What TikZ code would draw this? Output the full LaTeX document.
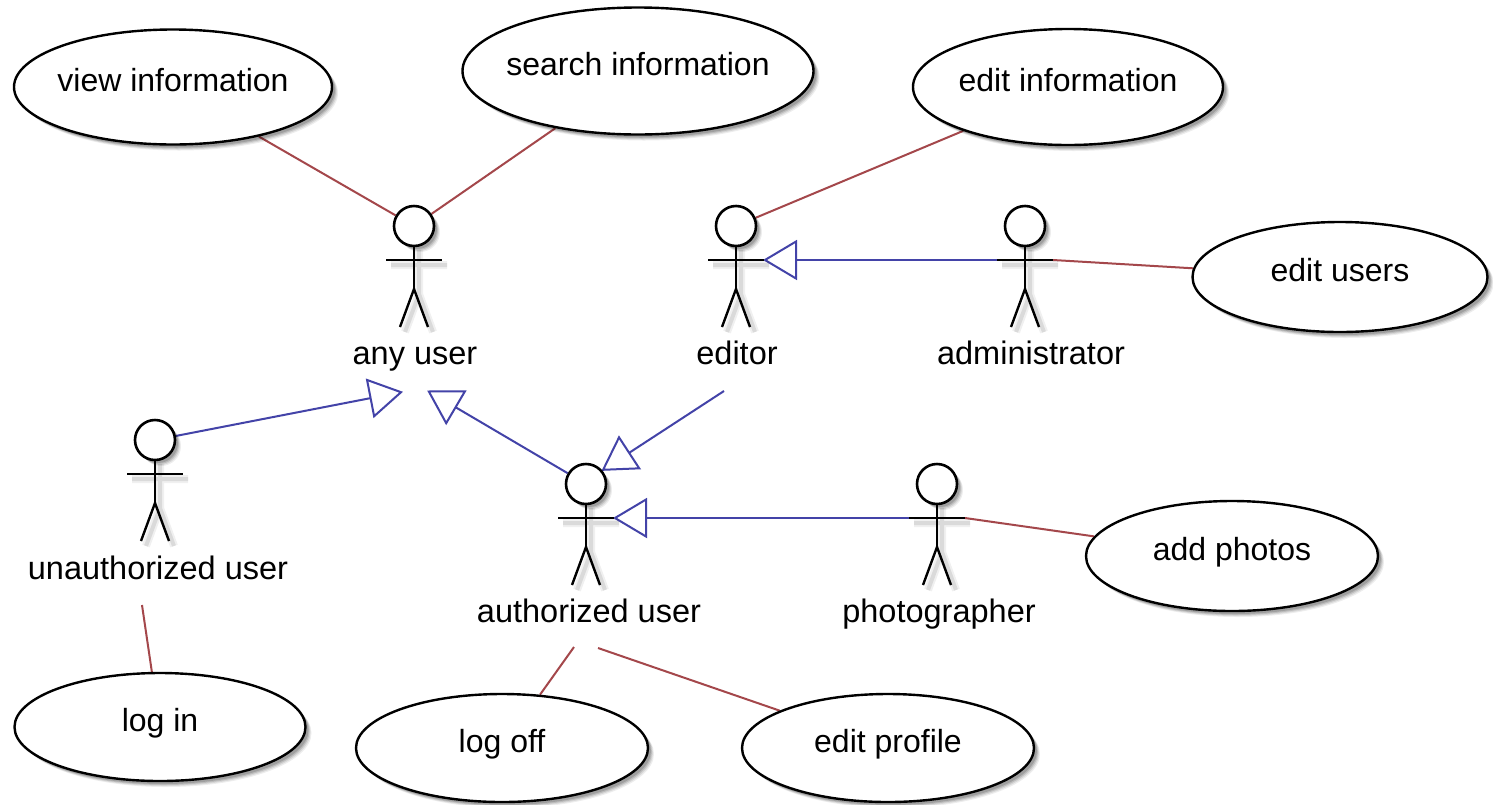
\documentclass[tikz,border=0pt]{standalone}
\usepackage{fontspec}
\setmainfont{Liberation Sans}
\usetikzlibrary{arrows.meta,shapes.geometric,shadows,backgrounds}
\definecolor{assoc}{HTML}{A4474B}
\definecolor{gener}{HTML}{4343A8}
\newcommand{\uctext}[1]{\raisebox{-4.5pt}[0pt][0pt]{\makebox[0pt]{#1}}}
\tikzset{
  x=1pt,y=-1pt,
  softshadow/.style={
    general shadow={shadow xshift=6pt,shadow yshift=-6pt,fill=black,opacity=.07},
    general shadow={shadow xshift=5pt,shadow yshift=-5pt,fill=black,opacity=.09},
    general shadow={shadow xshift=4pt,shadow yshift=-4pt,fill=black,opacity=.12},
    general shadow={shadow xshift=3pt,shadow yshift=-3pt,fill=black,opacity=.15}},
  usecase/.style={draw=black,line width=2.4pt,fill=white,ellipse,inner sep=0pt,
    font=\fontsize{32}{36}\selectfont,softshadow},
  head/.style={draw=black,line width=2.6pt,fill=white,circle,inner sep=0pt,minimum size=40pt,softshadow},
  stick/.style={draw=black,line width=2.4pt},
  stickshadowwide/.style={draw=black,opacity=.06,line width=8pt},
  stickshadow/.style={draw=black,opacity=.09,line width=4pt},
  actorlabel/.style={inner sep=0pt,anchor=base,font=\fontsize{32.5}{36}\selectfont},
  assocline/.style={draw=assoc,line width=2pt},
  generline/.style={draw=gener,line width=2pt,shorten >=-1pt,
    -{Triangle[open,length=34pt,width=40pt,fill=white]}},
}
% name, head x, head y, label x, label baseline y, label text
\newcommand{\useractor}[6]{%
  \begin{scope}[shift={(#2,#3)}]
    \draw[stickshadowwide] (-23,39) -- (33,39) (5,24) -- (5,68) (-9,106) -- (5,68) -- (19,106);
    \draw[stickshadow] (-23,39) -- (33,39) (5,24) -- (5,68) (-9,106) -- (5,68) -- (19,106);
    \node[head] (#1) at (0,0) {};
    \coordinate (#1-left) at (-28,34);
    \coordinate (#1-right) at (28,34);
    \draw[stick] (0,20) -- (0,63);
    \draw[stick] (#1-left) -- (#1-right);
    \draw[stick] (-14,101) -- (0,63) -- (14,101);
  \end{scope}
  \node[actorlabel] (#1-label) at (#4,#5) {#6};
}
\begin{document}
\begin{tikzpicture}
  \useasboundingbox (0,0) rectangle (1493,804);
  \begin{scope}[on background layer]
    \fill[white] (0,0) rectangle (1493,804);
  \end{scope}

  % use cases
  \node[usecase,minimum width=318pt,minimum height=115pt] (view) at (173,87) {\uctext{view information}};
  \node[usecase,minimum width=351pt,minimum height=127pt] (search) at (638,71) {\uctext{search information}};
  \node[usecase,minimum width=310pt,minimum height=116pt] (editinfo) at (1068,87) {\uctext{edit information}};
  \node[usecase,minimum width=295pt,minimum height=110pt] (editusers) at (1340,277) {\uctext{edit users}};
  \node[usecase,minimum width=292pt,minimum height=110pt] (addphotos) at (1232,556) {\uctext{add photos}};
  \node[usecase,minimum width=291pt,minimum height=108pt] (login) at (160,727) {\uctext{log in}};
  \node[usecase,minimum width=292pt,minimum height=108pt] (logoff) at (502,748) {\uctext{log off}};
  \node[usecase,minimum width=292pt,minimum height=108pt] (editprofile) at (888,748) {\uctext{edit profile}};

  % actors
  \useractor{anyuser}{414}{226}{415}{364}{any user}
  \useractor{editor}{736}{226}{737}{364}{editor}
  \useractor{admin}{1025}{226}{1031}{364}{administrator}
  \useractor{unauth}{155}{440}{158}{579}{unauthorized user}
  \useractor{auth}{586}{484}{589}{622}{authorized user}
  \useractor{photo}{937}{484}{939}{622}{photographer}

  % free ends of connectors
  \coordinate (tipunauth) at (402,392);
  \coordinate (tipauth) at (428,391);
  \coordinate (tailedit) at (724,391);
  \coordinate (taillogin) at (142,605);
  \coordinate (taillogoff) at (574,647);
  \coordinate (tailprofile) at (598,648);

  % connectors
  \begin{scope}[on background layer]
    \draw[assocline] (view) -- (anyuser);
    \draw[assocline] (search) -- (anyuser);
    \draw[assocline] (editinfo) -- (editor);
    \draw[assocline] (admin-right) -- (editusers);
    \draw[assocline] (photo-right) -- (addphotos);
    \draw[assocline] (taillogin) -- (login);
    \draw[assocline] (taillogoff) -- (logoff);
    \draw[assocline] (tailprofile) -- (editprofile);
    \draw[generline] (admin-left) -- (editor-right);
    \draw[generline] (photo-left) -- (auth-right);
    \draw[generline] (unauth) -- (tipunauth);
    \draw[generline] (auth) -- (tipauth);
    \draw[generline] (tailedit) -- (auth.40);
  \end{scope}
\end{tikzpicture}
\end{document}
